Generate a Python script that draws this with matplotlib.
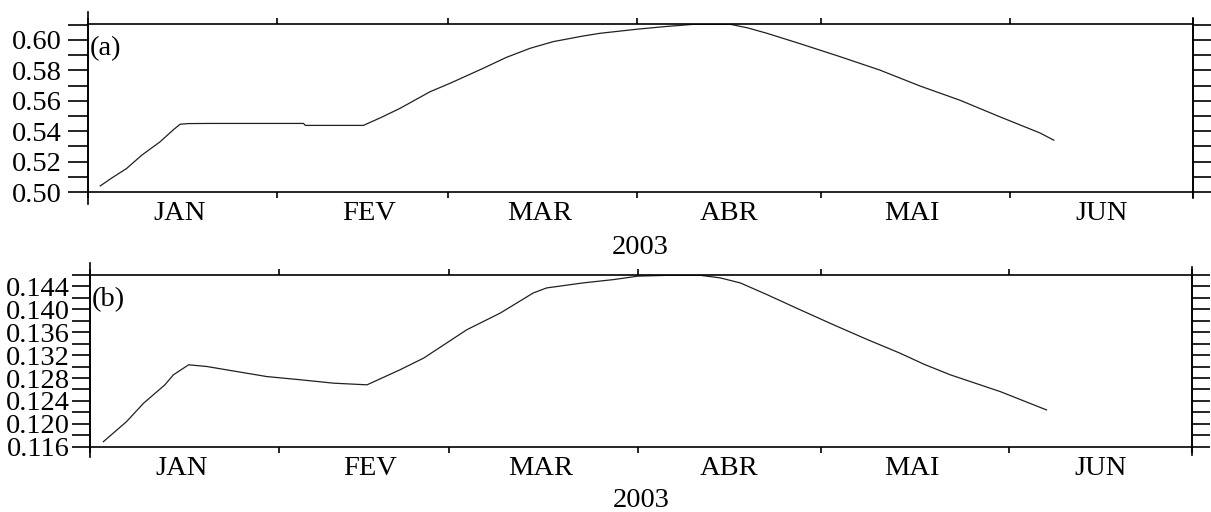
import numpy as np
import matplotlib
matplotlib.use("Agg")
import matplotlib.pyplot as plt
import matplotlib.dates as mdates
from matplotlib.ticker import MultipleLocator, FormatStrFormatter, FuncFormatter, NullFormatter

plt.rcParams['font.family'] = ['Liberation Serif', 'DejaVu Serif']
plt.rcParams['font.size'] = 20.5

# dias desde 1 de janeiro de 2003
dias_a = [2.0, 4.0, 6.3, 8.8, 11.8, 14.0, 15.1, 16.5, 20, 25, 30, 35.3, 35.6, 40, 45.1,
          48, 51.1, 56.0, 59.3, 64.7, 68.5, 72.4, 76.2, 81.1, 83.9, 90.0, 94.5, 99.2,
          105.2, 108.0, 111.2, 116.6, 123.2, 129.7, 136.3, 142.8, 149.4, 155.9, 158.2]
valores_a = [0.5040, 0.5095, 0.5154, 0.5242, 0.5330, 0.5410, 0.5446, 0.5450, 0.5451, 0.5451,
             0.5451, 0.5451, 0.5438, 0.5438, 0.5438, 0.5490, 0.5550, 0.5659, 0.5715, 0.5813,
             0.5885, 0.5945, 0.5989, 0.6026, 0.6044, 0.6071, 0.6088, 0.6103, 0.6103, 0.6080,
             0.6044, 0.5976, 0.5890, 0.5802, 0.5697, 0.5604, 0.5494, 0.5389, 0.5341]

dias_b = [2.2, 6.0, 8.8, 12.3, 13.7, 16.2, 19.2, 24, 29.0, 34.5, 40.0, 45.5, 50.9, 54.8,
          61.9, 67.4, 72.8, 75.0, 81.0, 86, 90, 95, 100.2, 103.5, 106.8, 111.2, 116.6,
          122.1, 127.5, 133.0, 137, 141.3, 149.5, 157.1]
valores_b = [0.11688, 0.12038, 0.12360, 0.12681, 0.12856, 0.13031, 0.13001, 0.12915, 0.12826,
             0.12770, 0.12710, 0.12681, 0.12943, 0.13148, 0.13644, 0.13936, 0.14286, 0.14374,
             0.14462, 0.14520, 0.14580, 0.14595, 0.14595, 0.14550, 0.14462, 0.14257, 0.13994,
             0.13731, 0.13480, 0.13236, 0.13040, 0.12856, 0.12563, 0.12243]

meses = ['JAN', 'FEV', 'MAR', 'ABR', 'MAI', 'JUN', 'JUL']
ano = '2003'

t0 = mdates.date2num(np.datetime64('2003-01-01'))
t1 = mdates.date2num(np.datetime64('2003-07-01'))

fig = plt.figure(figsize=(12.11, 5.12), dpi=100)
ax1 = fig.add_axes([88/1211, 1 - 192/512, 1105/1211, 168/512])
ax2 = fig.add_axes([90/1211, 1 - 446.7/512, 1102/1211, 171.7/512])


def formata(ax, dias, valores, ylim, maior, menor, fmt, rotulo, ext, ylen, ypad, xpad):
    ax.plot(t0 + np.array(dias), valores, color='#202020', lw=0.9)
    ax.set_xlim(t0, t1)
    ax.set_ylim(*ylim)
    for s in ax.spines.values():
        s.set_linewidth(1.2)
    # marcas dos meses nas bordas superior e inferior
    ax.xaxis.set_major_locator(mdates.MonthLocator())
    ax.xaxis.set_major_formatter(NullFormatter())
    ax.xaxis.set_minor_locator(mdates.MonthLocator(bymonthday=16))
    ax.xaxis.set_minor_formatter(FuncFormatter(
        lambda x, pos: meses[mdates.num2date(x).month - 1]))
    ax.tick_params(axis='x', which='major', direction='out', length=4.5, width=1.2,
                   top=True, bottom=True)
    ax.tick_params(axis='x', which='minor', length=0, pad=6.5)
    ax.yaxis.set_major_locator(MultipleLocator(maior))
    ax.yaxis.set_minor_locator(MultipleLocator(menor))
    ax.yaxis.set_major_formatter(FormatStrFormatter(fmt))
    ax.tick_params(axis='y', which='both', direction='out', length=ylen, width=1.2,
                   left=True, right=True, pad=ypad)
    ax.set_xlabel(ano, labelpad=xpad)
    ax.text(0.002, 0.93, rotulo, transform=ax.transAxes, ha='left', va='top')
    # prolongamento das bordas laterais
    ax.plot([0, 0], [-ext[0], 1 + ext[1]], transform=ax.transAxes, color='black',
            lw=1.2, clip_on=False)
    ax.plot([1, 1], [-ext[2], 1 + ext[2]], transform=ax.transAxes, color='black',
            lw=1.2, clip_on=False)


formata(ax1, dias_a, valores_a, (0.50, 0.6105), 0.02, 0.01, '%.2f', '(a)',
        (12/168, 12/168, 6/168), 14.4, 4.5, 6.5)
formata(ax2, dias_b, valores_b, (0.116, 0.146), 0.004, 0.002, '%.3f', '(b)',
        (10/171.7, 12/171.7, 8/171.7), 13.2, 1.2, 5)

fig.savefig('out.png', dpi=100)
